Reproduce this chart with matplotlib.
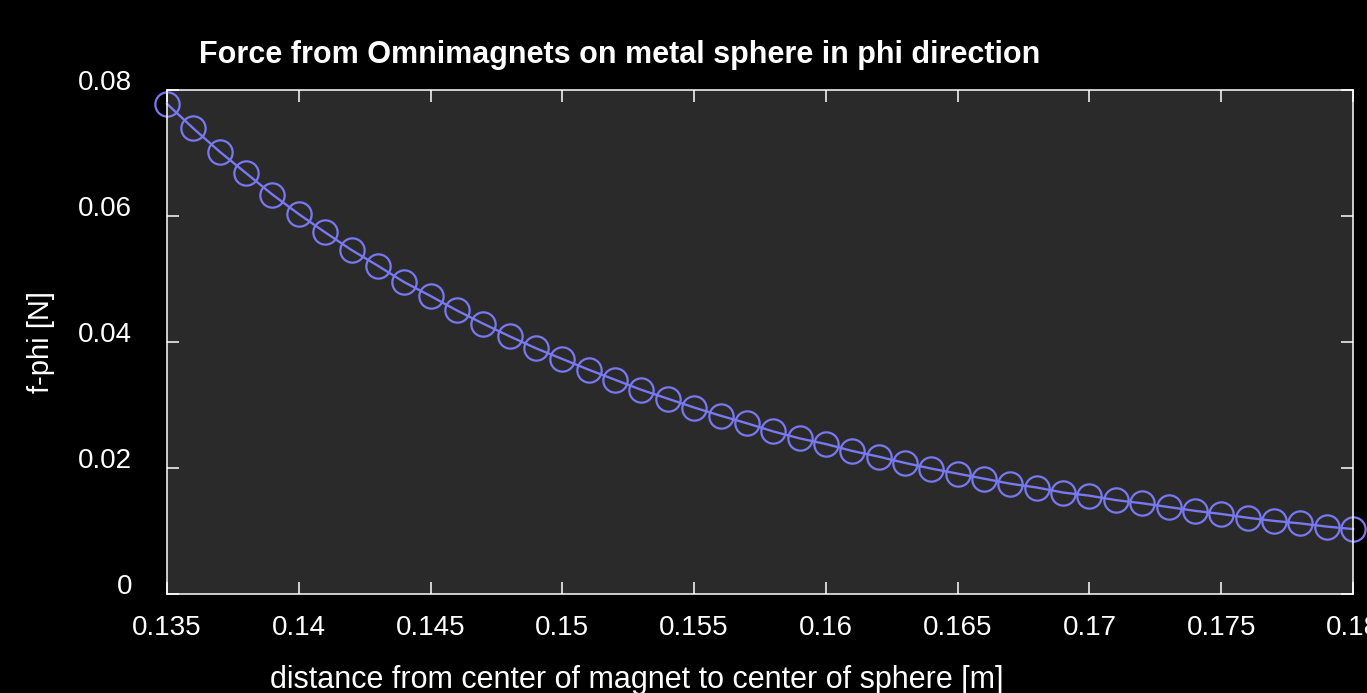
import numpy as np
import matplotlib
matplotlib.use("Agg")
import matplotlib.pyplot as plt

plt.rcParams['font.family'] = ['Liberation Sans', 'DejaVu Sans']

# distance [m], one point per mm
distance = np.round(np.arange(0.135, 0.1805, 0.001), 3)
f_phi = [0.0778, 0.0739, 0.0702, 0.0668, 0.0634, 0.0603, 0.0574, 0.0546,
         0.0521, 0.0495, 0.0473, 0.0450, 0.0429, 0.0409, 0.0390, 0.0373,
         0.0356, 0.0340, 0.0324, 0.0310, 0.0296, 0.0283, 0.0271, 0.0258,
         0.0247, 0.0238, 0.0227, 0.0218, 0.0208, 0.0199, 0.0191, 0.0183,
         0.0175, 0.0169, 0.0161, 0.0156, 0.0149, 0.0144, 0.0138, 0.0132,
         0.0127, 0.0121, 0.0116, 0.0112, 0.0107, 0.0103]

xticks = [0.135, 0.14, 0.145, 0.15, 0.155, 0.16, 0.165, 0.17, 0.175, 0.18]
xticklabels = ['0.135', '0.14', '0.145', '0.15', '0.155', '0.16', '0.165', '0.17', '0.175', '0.18']
yticks = [0, 0.02, 0.04, 0.06, 0.08]
yticklabels = ['0', '0.02', '0.04', '0.06', '0.08']

fig = plt.figure(figsize=(13.67, 6.93), dpi=100, facecolor='black')
ax = fig.add_axes([0.1222, 0.1429, 0.8676, 0.7272], facecolor='#2a2a2a')

ax.plot(distance, f_phi, color='#7878f0', lw=1.7, marker='o', ms=17.5,
        mfc='none', mec='#7878f0', mew=1.6, clip_on=False)

ax.set_xlim(0.135, 0.18)
ax.set_ylim(0, 0.08)
ax.set_xticks(xticks)
ax.set_xticklabels(xticklabels)
ax.set_yticks(yticks)
ax.set_yticklabels(yticklabels)
for lab in ax.get_yticklabels():
    lab.set_va('baseline')

ax.tick_params(direction='in', length=8.5, width=1.1, color='white',
               labelcolor='white', labelsize=20, top=True, right=True)
ax.tick_params(axis='x', pad=15)
ax.tick_params(axis='y', pad=25)
for sp in ax.spines.values():
    sp.set_color('white')
    sp.set_linewidth(1.1)

fig.text(0.4535, 0.920, 'Force from Omnimagnets on metal sphere in phi direction',
         color='white', fontsize=22, fontweight='bold', ha='center', va='center')
fig.text(0.466, 0.019, 'distance from center of magnet to center of sphere [m]',
         color='white', fontsize=22, ha='center', va='center')
fig.text(0.030, 0.506, 'f-phi [N]', color='white', fontsize=21,
         rotation=90, ha='center', va='center')

fig.savefig('out.png', dpi=100, facecolor='black')
